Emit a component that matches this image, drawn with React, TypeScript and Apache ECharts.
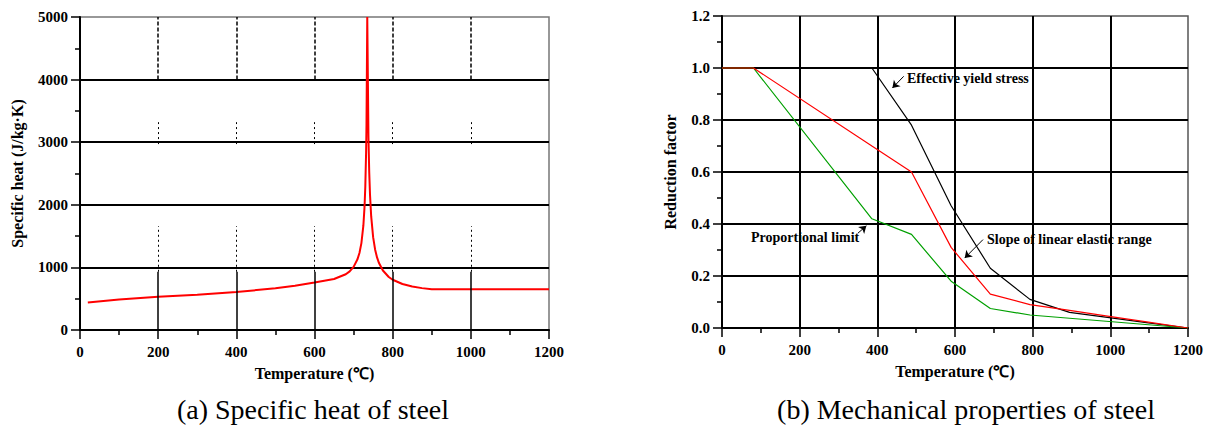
import React, { useEffect, useRef } from "react";
import * as echarts from "echarts";

// ---- (a) Specific heat of steel ----
const heatTemp = [20, 100, 200, 300, 400, 500, 550, 600, 650, 680, 690, 700, 710, 715, 720, 725, 728, 730, 732, 733, 735, 738, 740, 742, 745, 750, 755, 760, 765, 775, 790, 800, 825, 850, 875, 900, 1000, 1100, 1200];
const heatValue = [440, 488, 530, 565, 606, 667, 708, 760, 814, 890, 937, 1008, 1130, 1231, 1388, 1666, 1966, 2291, 2833, 3266, 5000, 3091, 2525, 2164, 1818, 1483, 1287, 1159, 1069, 950, 847, 803, 735, 695, 669, 650, 650, 650, 650];

// partial vertical guide segments seen in panel (a)
const guideX = [200, 400, 600, 800, 1000];
const guideSolid = [0, 930];
const guideDotLow = [930, 1660];
const guideDotMid = [2970, 3320];
const guideDashTop = [4000, 5000];

// ---- (b) Mechanical properties of steel ----
const mechTemp = [0, 81, 386, 488, 590, 691, 793, 895, 997, 1098, 1200];
const yieldFactor = [1.0, 1.0, 1.0, 0.78, 0.47, 0.23, 0.11, 0.06, 0.04, 0.02, 0.0];
const propFactor = [1.0, 1.0, 0.42, 0.36, 0.18, 0.075, 0.05, 0.0375, 0.025, 0.0125, 0.0];
const elasticFactor = [1.0, 1.0, 0.7, 0.6, 0.31, 0.13, 0.09, 0.0675, 0.045, 0.0225, 0.0];

const arrowYield = [[467.9, 0.968], [438.8, 0.923]];
const arrowProp = [[350.2, 0.365], [371.8, 0.393]];
const arrowSlope = [[672.1, 0.34], [625, 0.269]];

const FONT = "Liberation Serif";

const zip = (xs: number[], ys: number[]) => xs.map((x, i) => [x, ys[i]]);

function xAxisCfg(gridIndex: number, showSplit: boolean) {
  return {
    type: "value",
    gridIndex,
    min: 0,
    max: 1200,
    interval: 200,
    name: "Temperature (℃)",
    nameLocation: "middle",
    nameGap: 35,
    nameTextStyle: { fontFamily: FONT, fontWeight: "bold", fontSize: 16, color: "#000" },
    axisLine: { show: true, lineStyle: { color: "#000", width: 2 } },
    axisTick: { show: true, length: 9, lineStyle: { color: "#000", width: 1.5 } },
    minorTick: { show: true, splitNumber: 2, length: 5, lineStyle: { color: "#000", width: 1.5 } },
    axisLabel: {
      fontFamily: FONT, fontWeight: "bold", fontSize: 15, color: "#000", margin: 14,
      formatter: (v: number) => String(v),
    },
    splitLine: {
      show: showSplit,
      showMinLine: false,
      showMaxLine: false,
      lineStyle: { color: "#000", width: 2 },
    },
  };
}

function yAxisCfg(gridIndex: number, max: number, interval: number, name: string, nameGap: number, fmt: (v: number) => string) {
  return {
    type: "value",
    gridIndex,
    min: 0,
    max,
    interval,
    name,
    nameLocation: "middle",
    nameGap,
    nameTextStyle: { fontFamily: FONT, fontWeight: "bold", fontSize: 16, color: "#000" },
    axisLine: { show: true, lineStyle: { color: "#000", width: 2 } },
    axisTick: { show: true, length: 9, lineStyle: { color: "#000", width: 1.5 } },
    minorTick: { show: true, splitNumber: 2, length: 5, lineStyle: { color: "#000", width: 1.5 } },
    axisLabel: { fontFamily: FONT, fontWeight: "bold", fontSize: 15, color: "#000", margin: 12, formatter: fmt },
    splitLine: {
      show: true,
      showMinLine: false,
      showMaxLine: false,
      lineStyle: { color: "#000", width: 2 },
    },
  };
}

function guideLines() {
  const segs: any[] = [];
  const add = (range: number[], type: any, width: number) => {
    guideX.forEach((x) => {
      segs.push([
        { coord: [x, range[0]], lineStyle: { type, width, color: "#000" } },
        { coord: [x, range[1]] },
      ]);
    });
  };
  add(guideSolid, "solid", 1.5);
  add(guideDotLow, [2, 3], 1);
  add(guideDotMid, [2, 3], 1);
  add(guideDashTop, [4, 2], 1.5);
  return segs;
}

function arrowMark(pts: number[][]) {
  return {
    silent: true,
    symbol: ["none", "arrow"],
    symbolSize: 7,
    label: { show: false },
    lineStyle: { color: "#000", width: 1, type: "solid" },
    data: [[{ coord: pts[0] }, { coord: pts[1] }]],
  };
}

const annText = (text: string, x: number, y: number, size: number, weight: string, align: string) => ({
  type: "text",
  x,
  y,
  silent: true,
  style: {
    text,
    fontFamily: FONT,
    fontSize: size,
    fontWeight: weight,
    fill: "#000",
    align,
    verticalAlign: "middle",
  },
});

export default function App() {
  const ref = useRef<HTMLDivElement>(null);
  useEffect(() => {
    if (!ref.current) return;
    const chart = echarts.init(ref.current, undefined, { renderer: "svg" });
    chart.setOption({
      animation: false,
      backgroundColor: "#fff",
      textStyle: { fontFamily: FONT },
      grid: [
        { left: 80, top: 17, width: 469, height: 313, show: true, borderColor: "#777", borderWidth: 1.5 },
        { left: 722, top: 16, width: 466, height: 312, show: true, borderColor: "#555", borderWidth: 1.5 },
      ],
      xAxis: [xAxisCfg(0, false), xAxisCfg(1, true)],
      yAxis: [
        yAxisCfg(0, 5000, 1000, "Specific heat (J/kg·K)", 55, (v: number) => String(v)),
        yAxisCfg(1, 1.2, 0.2, "Reduction factor", 44, (v: number) => v.toFixed(1)),
      ],
      series: [
        {
          type: "line",
          xAxisIndex: 0,
          yAxisIndex: 0,
          data: zip(heatTemp, heatValue),
          showSymbol: false,
          lineStyle: { color: "#ff0000", width: 2 },
          markLine: {
            silent: true,
            symbol: "none",
            label: { show: false },
            data: guideLines(),
          },
          z: 3,
        },
        {
          type: "line",
          xAxisIndex: 1,
          yAxisIndex: 1,
          data: zip(mechTemp, yieldFactor),
          showSymbol: false,
          lineStyle: { color: "#000", width: 1.2 },
          markLine: arrowMark(arrowYield),
        },
        {
          type: "line",
          xAxisIndex: 1,
          yAxisIndex: 1,
          data: zip(mechTemp, propFactor),
          showSymbol: false,
          lineStyle: { color: "#00a000", width: 1.2 },
          markLine: arrowMark(arrowProp),
        },
        {
          type: "line",
          xAxisIndex: 1,
          yAxisIndex: 1,
          data: zip(mechTemp, elasticFactor),
          showSymbol: false,
          lineStyle: { color: "#ff0000", width: 1.2 },
          markLine: arrowMark(arrowSlope),
        },
      ],
      graphic: [
        annText("Effective yield stress", 907, 78, 14, "bold", "left"),
        annText("Proportional limit", 751, 237, 14, "bold", "left"),
        annText("Slope of linear elastic range", 987, 239, 14, "bold", "left"),
        annText("(a) Specific heat of steel", 313, 409, 28, "normal", "center"),
        annText("(b) Mechanical properties of steel", 966, 409, 28, "normal", "center"),
      ],
    });
    return () => chart.dispose();
  }, []);
  return (
    <div
      ref={ref}
      style={{ position: "absolute", left: 0, top: 0, width: 1210, height: 426 }}
    />
  );
}
